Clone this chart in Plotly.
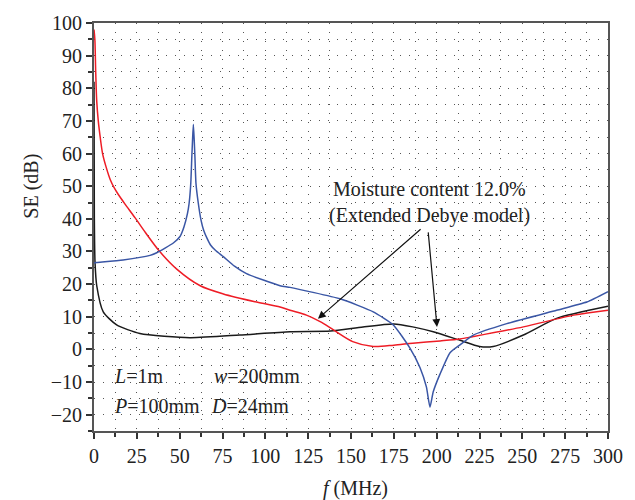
import plotly.graph_objects as go

# Red curve
red_f = [0, 0.5, 1, 1.6, 2.5, 3.5, 5, 7, 9.5, 12, 14, 18, 24, 30, 38, 48.3, 62, 75.5, 95, 108.6, 114.4, 124, 132, 140, 151, 163, 175, 186, 202, 213.6, 221, 250.6, 280, 300]
red_se = [98, 95, 85, 76, 70, 65.5, 60, 56, 52, 49.3, 47.6, 44.6, 40.3, 35.8, 30.2, 24.6, 19.5, 17, 14.5, 13, 12, 10.5, 8.5, 5.9, 2.4, 0.9, 1.3, 1.9, 2.6, 3.2, 3.9, 6.9, 10.5, 12]

# Blue curve
blue_f = [0, 1.6, 17, 32.7, 36.6, 46.3, 50.2, 52.5, 54.5, 55.5, 56.5, 57.1, 57.5, 58, 58.5, 58.9, 59.5, 60.9, 62.5, 64, 66, 68, 71, 75.5, 82, 89, 108.6, 114.4, 143.6, 163, 174.7, 184.4, 190.3, 194, 196.1, 198, 202, 207.8, 213.6, 221.4, 240.9, 270, 287.6, 300]
blue_se = [26.5, 26.6, 27.4, 28.8, 29.6, 32.6, 34.6, 37.5, 41.5, 44.7, 51, 59, 64, 69, 64, 59, 51, 44.7, 39.5, 36.5, 34, 32, 30.3, 28.4, 25.5, 23.2, 19.5, 19, 15.5, 11.5, 7.5, 0.4, -5.6, -11.5, -17.7, -13, -7.5, -1, 1.4, 4.4, 7.9, 12, 14.5, 17.7]

# Black curve
black_f = [0, 0.2, 0.6, 1.6, 5.4, 13.2, 26.8, 56, 85, 114.4, 138, 157, 175, 186, 198, 213.6, 225, 233, 250.6, 270, 300]
black_se = [82, 40, 26.6, 19.5, 11.5, 7.5, 4.9, 3.6, 4.4, 5.4, 5.6, 6.9, 7.8, 6.9, 5.4, 2.8, 0.9, 0.9, 4.4, 9.5, 13.2]

x_ticks = list(range(0, 301, 25))
y_ticks = list(range(-20, 101, 10))

SERIF = "Liberation Serif, Times New Roman, serif"
FS = 20
TXT = "#222"

fig = go.Figure()
fig.add_trace(go.Scatter(x=black_f, y=black_se, mode="lines",
                         line=dict(color="#1a1a1a", width=1.5, shape="spline", smoothing=0.6)))
fig.add_trace(go.Scatter(x=red_f, y=red_se, mode="lines",
                         line=dict(color="#ee1c25", width=1.5, shape="spline", smoothing=0.8)))
fig.add_trace(go.Scatter(x=blue_f, y=blue_se, mode="lines",
                         line=dict(color="#3a56a5", width=1.5, shape="spline", smoothing=0.5)))

grid_style = dict(showgrid=True, gridcolor="#555555", gridwidth=1, griddash="1px,8px")

fig.update_xaxes(range=[0, 300], tickvals=x_ticks, ticks="outside", ticklen=6, tickwidth=1.5,
                 tickcolor="#333", showline=True, linecolor="#555", linewidth=2, mirror=True,
                 tickfont=dict(family=SERIF, size=FS, color=TXT),
                 minor=dict(dtick=12.5, tick0=0, ticks="outside", ticklen=4, tickwidth=1.5,
                            tickcolor="#333", **grid_style),
                 zeroline=False, **grid_style)
fig.update_yaxes(range=[-25, 100], tickvals=y_ticks, ticks="outside", ticklen=6, tickwidth=1.5,
                 tickcolor="#333", showline=True, linecolor="#555", linewidth=2, mirror=True,
                 tickfont=dict(family=SERIF, size=FS, color=TXT),
                 minor=dict(dtick=5, tick0=0, ticks="outside", ticklen=4, tickwidth=1.5,
                            tickcolor="#333", **grid_style),
                 zeroline=False, **grid_style)

annotations = [
    dict(text="SE (dB)", xref="paper", yref="paper", x=-0.148, y=0.6, textangle=-90,
         showarrow=False, font=dict(family=SERIF, size=FS, color=TXT)),
    dict(text="<i>f</i> (MHz)", xref="paper", yref="paper", x=0.508, y=-0.14, yanchor="middle",
         showarrow=False, font=dict(family=SERIF, size=FS, color=TXT)),
    dict(text="Moisture content 12.0%", x=196, y=49, showarrow=False,
         font=dict(family=SERIF, size=FS, color=TXT)),
    dict(text="(Extended Debye model)", x=196, y=41, showarrow=False,
         font=dict(family=SERIF, size=FS, color=TXT)),
    dict(text="<i>L</i>=1m", x=10.5, y=-8.2, xanchor="left", showarrow=False,
         font=dict(family=SERIF, size=FS, color=TXT)),
    dict(text="<i>w</i>=200mm", x=69, y=-8.2, xanchor="left", showarrow=False,
         font=dict(family=SERIF, size=FS, color=TXT)),
    dict(text="<i>P</i>=100mm", x=10.5, y=-17.2, xanchor="left", showarrow=False,
         font=dict(family=SERIF, size=FS, color=TXT)),
    dict(text="<i>D</i>=24mm", x=67, y=-17.2, xanchor="left", showarrow=False,
         font=dict(family=SERIF, size=FS, color=TXT)),
    dict(text="", x=130.7, y=9.4, ax=191.5, ay=37.2, axref="x", ayref="y",
         showarrow=True, arrowhead=2, arrowsize=1.3, arrowwidth=1.2, arrowcolor="#111"),
    dict(text="", x=200.2, y=6.9, ax=195, ay=36.3, axref="x", ayref="y",
         showarrow=True, arrowhead=2, arrowsize=1.3, arrowwidth=1.2, arrowcolor="#111"),
]

fig.update_layout(width=635, height=500, margin=dict(l=94, r=27, t=17, b=69),
                  plot_bgcolor="white", paper_bgcolor="white", showlegend=False,
                  annotations=annotations)

fig.write_html("out.html", config={"displayModeBar": False},
               post_script="document.body.style.margin='0';document.body.style.padding='0';")
